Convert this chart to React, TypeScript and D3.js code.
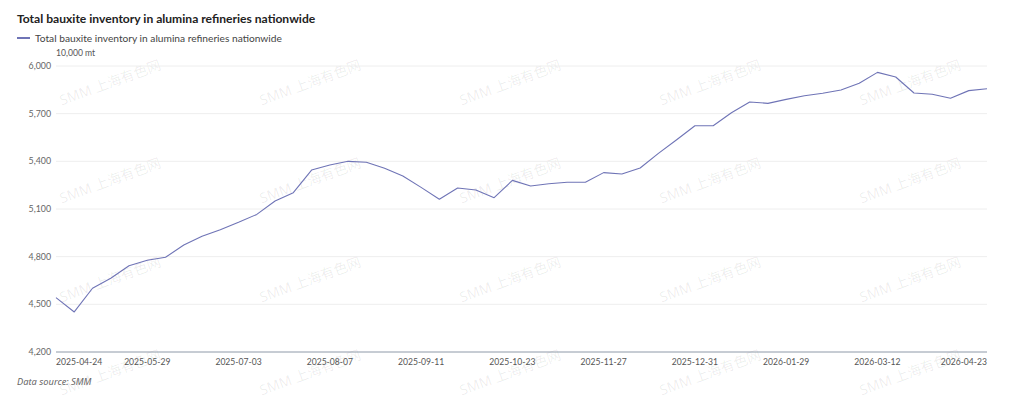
import React from "react";
import * as d3 from "d3";

const TITLE = "Total bauxite inventory in alumina refineries nationwide";
const SERIES_NAME = "Total bauxite inventory in alumina refineries nationwide";
const UNIT = "10,000 mt";
const SOURCE = "Data source:  SMM";
const WATERMARK = "SMM 上海有色网";

const dates = [
  "2025-04-24", "2025-05-01", "2025-05-08", "2025-05-15", "2025-05-22",
  "2025-05-29", "2025-06-05", "2025-06-12", "2025-06-19", "2025-06-26",
  "2025-07-03", "2025-07-10", "2025-07-17", "2025-07-24", "2025-07-31",
  "2025-08-07", "2025-08-14", "2025-08-21", "2025-08-28", "2025-09-04",
  "2025-09-11", "2025-09-18", "2025-09-25", "2025-10-09", "2025-10-16",
  "2025-10-23", "2025-10-30", "2025-11-06", "2025-11-13", "2025-11-20",
  "2025-11-27", "2025-12-04", "2025-12-11", "2025-12-18", "2025-12-25",
  "2025-12-31", "2026-01-08", "2026-01-15", "2026-01-22", "2026-01-26",
  "2026-01-29", "2026-02-05", "2026-02-12", "2026-02-26", "2026-03-05",
  "2026-03-12", "2026-03-19", "2026-03-26", "2026-04-02", "2026-04-09",
  "2026-04-16", "2026-04-23",
];

const values = [
  4542, 4452, 4601, 4664, 4743, 4777, 4796, 4873, 4928, 4970,
  5016, 5066, 5150, 5203, 5345, 5377, 5400, 5394, 5356, 5308,
  5236, 5161, 5232, 5220, 5171, 5280, 5245, 5259, 5268, 5268,
  5329, 5320, 5358, 5450, 5536, 5624, 5624, 5706, 5773, 5765,
  5790, 5813, 5828, 5849, 5891, 5960, 5931, 5830, 5822, 5797,
  5845, 5857,
];

const xTickLabels = [
  "2025-04-24", "2025-05-29", "2025-07-03", "2025-08-07", "2025-09-11",
  "2025-10-23", "2025-11-27", "2025-12-31", "2026-01-29", "2026-03-12",
  "2026-04-23",
];

const yTicks = [4200, 4500, 4800, 5100, 5400, 5700, 6000];

const W = 1024;
const H = 399;
const LEFT = 56;
const RIGHT = 987;
const TOP = 66;
const BOTTOM = 352;
const LINE_COLOR = "#6f74b6";
const FONT = "Lato, 'Noto Sans', sans-serif";

export default function App() {
  const x = d3.scalePoint<string>().domain(dates).range([LEFT, RIGHT]);
  const y = d3.scaleLinear().domain([4200, 6000]).range([BOTTOM, TOP]);
  const line = d3
    .line<number>()
    .x((_, i) => x(dates[i]) as number)
    .y((d) => y(d));
  const fmt = d3.format(",");

  const wmCols = [110, 310, 510, 710, 910];
  const wmRows = [82, 180, 279, 372];

  return (
    <svg
      width={W}
      height={H}
      style={{ position: "absolute", left: 0, top: 0, display: "block", background: "#fff" }}
      fontFamily={FONT}
    >
      <rect x={0} y={0} width={W} height={H} fill="#fff" />
      {/* watermarks */}
      <g fill="#000" fillOpacity={0.075} fontSize={14} fontFamily="'Noto Sans', 'Noto Sans CJK SC', sans-serif">
        {wmRows.map((ry) =>
          wmCols.map((cx) => (
            <text
              key={`${cx}-${ry}`}
              x={cx}
              y={ry}
              textAnchor="middle"
              dominantBaseline="central"
              transform={`rotate(-20 ${cx} ${ry})`}
            >
              {WATERMARK}
            </text>
          ))
        )}
      </g>

      {/* title */}
      <text x={17} y={23} fontSize={12.1} fontWeight={700} fill="#222">
        {TITLE}
      </text>

      {/* legend */}
      <line x1={17} x2={30} y1={38} y2={38} stroke={LINE_COLOR} strokeWidth={2} />
      <text x={35} y={42} fontSize={10.2} fill="#444">
        {SERIES_NAME}
      </text>

      {/* unit */}
      <text x={56} y={56} fontSize={8.6} fill="#555">
        {UNIT}
      </text>

      {/* gridlines */}
      {yTicks.map((t) =>
        t === 4200 ? null : (
          <line key={t} x1={LEFT} x2={RIGHT} y1={y(t)} y2={y(t)} stroke="#eeeeee" strokeWidth={1} />
        )
      )}

      {/* y labels */}
      {yTicks.map((t) => (
        <text key={t} x={51} y={y(t)} dy="0.35em" textAnchor="end" fontSize={8.8} fill="#666">
          {fmt(t)}
        </text>
      ))}

      {/* axis line */}
      <line x1={LEFT} x2={RIGHT} y1={BOTTOM} y2={BOTTOM} stroke="#8e99a8" strokeWidth={1} />

      {/* x labels */}
      {xTickLabels.map((d, i) => (
        <text
          key={d}
          x={x(d) as number}
          y={365}
          textAnchor={i === 0 ? "start" : i === xTickLabels.length - 1 ? "end" : "middle"}
          fontSize={8.6}
          fill="#555"
        >
          {d}
        </text>
      ))}

      {/* series line */}
      <path d={line(values) || ""} fill="none" stroke={LINE_COLOR} strokeWidth={1.1} strokeLinejoin="round" />

      {/* source */}
      <text x={17} y={385} fontSize={9.3} fontStyle="italic" fill="#666" fontFamily="'Noto Sans', sans-serif">
        {SOURCE}
      </text>
    </svg>
  );
}
